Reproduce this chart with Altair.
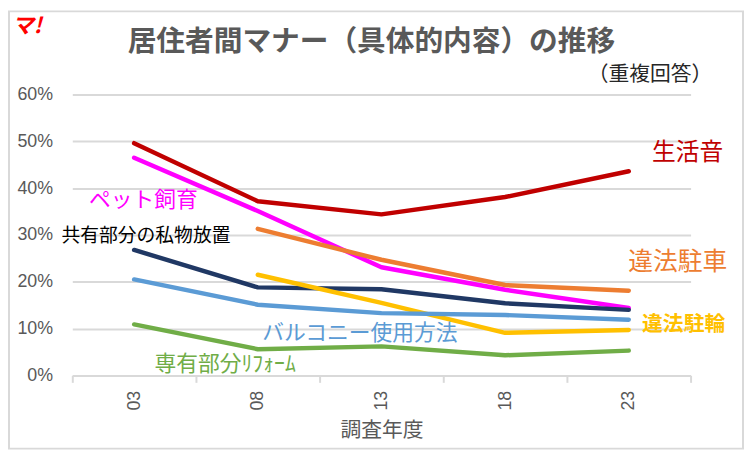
import altair as alt
import pandas as pd

years = ["03", "08", "13", "18", "23"]
series_names = ["生活音", "ペット飼育", "違法駐車", "共有部分の私物放置", "違法駐輪", "バルコニー使用方法", "専有部分ﾘﾌｫｰﾑ"]
seikatsuon = [0.496, 0.372, 0.344, 0.381, 0.436]
pet = [0.465, 0.351, 0.231, 0.183, 0.144]
chusha = [None, 0.313, 0.247, 0.193, 0.181]
shibutsu = [0.268, 0.188, 0.184, 0.154, 0.140]
churin = [None, 0.215, 0.155, 0.091, 0.097]
balcony = [0.205, 0.151, 0.133, 0.129, 0.119]
reform = [0.109, 0.056, 0.062, 0.043, 0.053]
colors = ["#C00000", "#FF00FF", "#ED7D31", "#203864", "#FFC000", "#5B9BD5", "#70AD47"]

all_values = [seikatsuon, pet, chusha, shibutsu, churin, balcony, reform]
rows = []
for name, vals in zip(series_names, all_values):
    for y, v in zip(years, vals):
        if v is not None:
            rows.append({"year": y, "value": v, "series": name})
df = pd.DataFrame(rows)

JP = "Noto Sans CJK JP"

lines = alt.Chart(df).mark_line(strokeWidth=4.5, strokeCap="round", strokeJoin="round").encode(
    x=alt.X("year:N", sort=years,
            scale=alt.Scale(type="band", domain=years, paddingInner=0, paddingOuter=0),
            axis=alt.Axis(title="調査年度", labelAngle=270, tickBand="extent", grid=False,
                          domainColor="#D9D9D9", domainWidth=2, tickColor="#D9D9D9", tickWidth=2,
                          tickSize=7, labelFontSize=18, labelColor="#595959", labelPadding=8,
                          labelFont="Liberation Sans",
                          titleFontSize=21, titleColor="#595959", titleFontWeight="normal",
                          titleFont=JP, titlePadding=10)),
    y=alt.Y("value:Q", scale=alt.Scale(domain=[0, 0.6]),
            axis=alt.Axis(format=".0%", values=[0, 0.1, 0.2, 0.3, 0.4, 0.5, 0.6], domain=False,
                          ticks=False, gridColor="#D9D9D9", gridWidth=2, labelFontSize=18,
                          labelColor="#595959", labelPadding=20, labelFont="Liberation Sans",
                          title=None)),
    color=alt.Color("series:N", scale=alt.Scale(domain=series_names, range=colors), legend=None),
    detail="series:N",
)

# annotations: text, color, size, weight, x, y (plot-area pixels)
annotations = [
    ("生活音", "#C00000", 24, "normal", 586, 59),
    ("ペット飼育", "#FF00FF", 22, "normal", 17, 107),
    ("共有部分の私物放置", "#000000", 19, "normal", -11, 143),
    ("違法駐車", "#ED7D31", 25, "normal", 562, 169),
    ("違法駐輪", "#FFC000", 21, "bold", 576, 233),
    ("バルコニー使用方法", "#5B9BD5", 22, "normal", 192, 241),
    ("専有部分ﾘﾌｫｰﾑ", "#70AD47", 22, "normal", 83, 273),
    ("居住者間マナー（具体的内容）の推移", "#595959", 29, "bold", 56, -53),
    ("（重複回答）", "#262626", 21, "normal", 521, -20),
]

base = alt.Chart(pd.DataFrame({"k": [0]}))
layers = [lines]
for txt, col, size, weight, px, py in annotations:
    layers.append(base.mark_text(text=txt, color=col, fontSize=size, fontWeight=weight, font=JP,
                                 align="left", baseline="middle").encode(
        x=alt.value(px), y=alt.value(py)))

layers.append(base.mark_text(text="マ!", color="#FF0000", fontSize=22, fontWeight="bold",
                             fontStyle="italic", font=JP, align="left", baseline="middle").encode(
    x=alt.value(-61), y=alt.value(-69)))

layers.append(base.mark_rect(fillOpacity=0, stroke="#D9D9D9", strokeWidth=2).encode(
    x=alt.value(-64), x2=alt.value(678), y=alt.value(-84), y2=alt.value(358)))

chart = alt.layer(*layers).properties(
    width=625, height=284,
    autosize=alt.AutoSizeParams(type="none"),
    padding={"left": 65, "top": 85, "right": 54, "bottom": 75},
).configure_view(stroke=None)

chart.save("out.html", embed_options={"renderer": "svg", "actions": False})
